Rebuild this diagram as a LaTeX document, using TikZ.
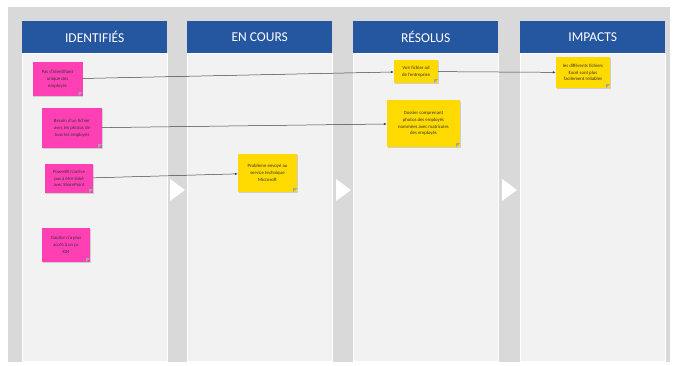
\documentclass[tikz,border=0pt]{standalone}
\usepackage{fontspec}
\setmainfont{Carlito}
\usepackage{tikz}
\usetikzlibrary{positioning,arrows.meta,shadows}

\definecolor{bggray}{HTML}{D9D9D9}
\definecolor{colgray}{HTML}{F2F2F2}
\definecolor{headblue}{HTML}{2556A0}
\definecolor{notepink}{HTML}{FF40B4}
\definecolor{noteyellow}{HTML}{FFDA00}

\begin{document}
\begin{tikzpicture}[
  x=1pt, y=-1pt,
  head/.style={fill=headblue, text=white, minimum width=145pt, minimum height=32pt, font=\fontsize{13.5}{15}\selectfont, inner sep=0pt},
  col/.style={fill=colgray, draw=white, line width=0.4pt},
  note/.style={align=center, inner sep=1pt, text=black!80, font=\fontsize{4.8}{6.8}\selectfont,
    drop shadow={opacity=0.3, shadow xshift=0.8pt, shadow yshift=-0.8pt},
    path picture={\fill[black!35] (path picture bounding box.south east) ++(-4pt,0) -- ++(0,4pt) -- ++(4pt,0) -- cycle;}},
  pink/.style={note, fill=notepink},
  yel/.style={note, fill=noteyellow},
  arr/.style={-{Latex[length=3pt,width=2.4pt]}, draw=black!75, line width=0.5pt},
  tri/.style={fill=white, draw=none}
]
\useasboundingbox (0,0) rectangle (675,365);
\fill[bggray] (8,7) rectangle (670,362);

% columns
\foreach \x/\name/\title in {22/h1/IDENTIFIÉS, 187/h2/EN COURS, 353/h3/RÉSOLUS, 520/h4/IMPACTS}{
  \fill[col] (\x,53) rectangle ++(145,308);
  \node[head, anchor=north west] (\name) at (\x,21) {\title};
}

% triangles between columns
\foreach \x in {170,336,502}
  \fill[tri] (\x,179) -- (\x+15,190) -- (\x,201) -- cycle;

% identified
\node[pink, minimum width=50pt, minimum height=34pt] (pas) at (57.5,79) {Pas d'identifiant\\unique des\\employés};
\node[pink, minimum width=60pt, minimum height=40pt] (besoin) at (72,128) {Besoin d'un fichier\\avec les photos de\\tous les employés};
\node[pink, minimum width=48pt, minimum height=29pt] (powerbi) at (69,178.5) {PowerBI n'arrive\\pas à être linké\\avec SharePoint};
\node[pink, minimum width=48pt, minimum height=34pt] (gautier) at (66,245) {Gautier n'a plus\\accès à un pc\\X04};

% in progress
\node[yel, minimum width=59pt, minimum height=38pt] (probleme) at (267.5,173) {Problème envoyé au\\service technique\\Microsoft};

% solved
\node[yel, minimum width=44pt, minimum height=23pt] (voir) at (416,71.5) {Voir fichier ad\\de l'entreprise};
\node[yel, minimum width=73pt, minimum height=47pt] (dossier) at (423.5,123.5) {Dossier comprenant\\photos des employés\\nommées avec matricules\\des employés};

% impacts
\node[yel, minimum width=54pt, minimum height=31pt] (excel) at (583,72.5) {les différents fichiers\\Excel sont plus\\facilement reliables};

\draw[arr] (pas) -- (voir);
\draw[arr] (voir) -- (excel);
\draw[arr] (besoin) -- (dossier);
\draw[arr] (powerbi) -- (probleme);
\end{tikzpicture}
\end{document}
